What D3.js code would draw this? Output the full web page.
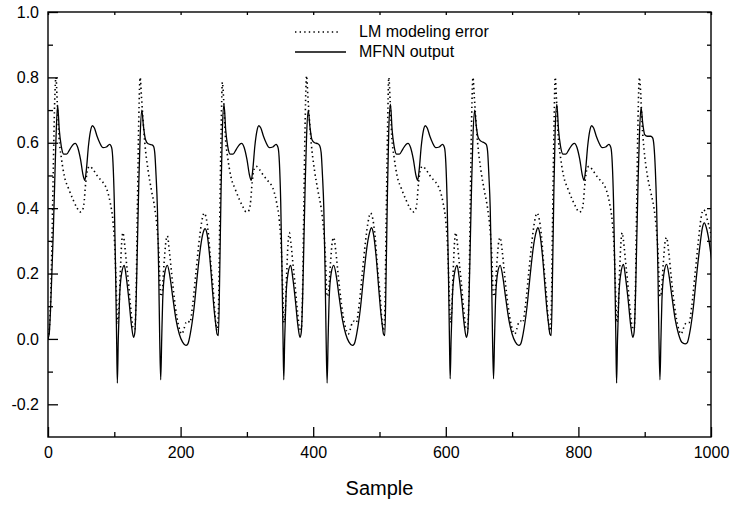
<!DOCTYPE html>
<html><head><meta charset="utf-8">
<script src="https://cdn.jsdelivr.net/npm/d3@7"></script>
<style>body{margin:0;background:#fff}svg{display:block;font-family:"Liberation Sans",Arial,sans-serif}</style>
</head><body><svg id="chart" width="730" height="505"></svg>
<script>
const xTickValues = [0, 200, 400, 600, 800, 1000];
const xTickLabels = ["0", "200", "400", "600", "800", "1000"];
const xMinorTicks = [100, 300, 500, 700, 900];
const yTickValues = [-0.2, 0, 0.2, 0.4, 0.6, 0.8, 1.0];
const yTickLabels = ["-0.2", "0.0", "0.2", "0.4", "0.6", "0.8", "1.0"];
const yMinorTicks = [-0.1, 0.1, 0.3, 0.5, 0.7, 0.9];
const xTitle = "Sample";
const seriesNames = ["LM modeling error", "MFNN output"];

// start sample of each repeated cycle of the waveform
const cycleStart = [0, 251, 502, 753];

// MFNN output: sample offsets within a cycle and values read per cycle
const mfnnT = [0,2,4,6,8,10,12,14.5,17,20,24,28,33,38,41,45,49,53,55.5,58,61,64,67,70,74,78,83,88,93,96,98,100,102,103.5,104.6,106,108,111,115,118,122,126,129,131,133,135,137,139,141.5,144,147,151,156,159,161,163,165,167,168.5,170,171.5,173,176,180,184,188,193,198,203,208,211,215,220,225,230,234,237,240,244,248];
const mfnnCycle1 = [0.00,0.02,0.10,0.21,0.33,0.47,0.61,0.715,0.64,0.59,0.565,0.565,0.58,0.595,0.598,0.585,0.55,0.50,0.485,0.52,0.59,0.635,0.652,0.645,0.62,0.60,0.585,0.587,0.595,0.585,0.54,0.42,0.20,0.0,-0.135,0.0,0.13,0.20,0.225,0.19,0.12,0.04,0.005,0.02,0.12,0.30,0.48,0.62,0.70,0.65,0.61,0.597,0.594,0.59,0.57,0.50,0.40,0.20,0.0,-0.125,0.0,0.12,0.20,0.225,0.19,0.13,0.06,0.015,-0.01,-0.02,-0.015,0.02,0.09,0.19,0.28,0.325,0.337,0.32,0.25,0.15];
const mfnnCycle2 = [0.08,0.045,0.015,0.01,0.20,0.45,0.64,0.718,0.64,0.59,0.565,0.565,0.58,0.595,0.598,0.585,0.55,0.50,0.485,0.52,0.59,0.635,0.652,0.645,0.62,0.60,0.585,0.587,0.595,0.585,0.54,0.42,0.20,0.0,-0.125,0.0,0.13,0.20,0.225,0.19,0.12,0.04,0.005,0.02,0.12,0.30,0.48,0.62,0.70,0.65,0.61,0.60,0.597,0.59,0.57,0.50,0.40,0.20,0.0,-0.135,0.0,0.12,0.20,0.225,0.19,0.13,0.06,0.015,-0.01,-0.02,-0.015,0.02,0.09,0.19,0.28,0.325,0.34,0.32,0.25,0.15];
const mfnnCycle3 = [0.08,0.045,0.015,0.01,0.20,0.45,0.64,0.718,0.64,0.59,0.565,0.565,0.58,0.595,0.598,0.585,0.55,0.50,0.485,0.52,0.59,0.635,0.652,0.645,0.62,0.60,0.585,0.587,0.595,0.585,0.54,0.42,0.20,0.0,-0.122,0.0,0.13,0.20,0.225,0.19,0.12,0.04,0.005,0.02,0.12,0.30,0.48,0.62,0.70,0.65,0.615,0.605,0.60,0.595,0.575,0.50,0.40,0.20,0.0,-0.122,0.0,0.12,0.20,0.225,0.19,0.13,0.06,0.015,-0.01,-0.02,-0.015,0.02,0.09,0.19,0.28,0.325,0.34,0.32,0.25,0.15];
const mfnnCycle4 = [0.08,0.045,0.015,0.01,0.20,0.45,0.64,0.718,0.64,0.59,0.565,0.565,0.58,0.595,0.598,0.585,0.55,0.50,0.485,0.52,0.59,0.635,0.652,0.645,0.62,0.60,0.585,0.587,0.595,0.585,0.54,0.42,0.20,0.0,-0.135,0.0,0.13,0.20,0.228,0.19,0.12,0.04,0.005,0.02,0.12,0.30,0.48,0.62,0.708,0.66,0.625,0.62,0.62,0.615,0.59,0.52,0.40,0.20,0.0,-0.125,0.0,0.12,0.20,0.228,0.19,0.13,0.06,0.015,-0.01,-0.015,-0.012,0.02,0.09,0.19,0.28,0.34,0.355,0.34,0.30,0.24];
const mfnnCycles = [mfnnCycle1, mfnnCycle2, mfnnCycle3, mfnnCycle4];

// LM modeling error: sample offsets within a cycle and values read per cycle
const lmT = [0,2,4,6,8,10,12,14,16.5,20,25,31,38,44,48,51,54,57,60,63,68,74,80,86,90,94,98,101,103,105,107,109,111,113,115,118,121,125,129,131,133,135,137,139,141,143,146,151,156,161,164,167,170,172,175,178,180,183,187,192,197,202,205,208,211,214,218,223,228,232,235.5,238,242,246,250];
const lmCycle1 = [0.00,0.03,0.12,0.30,0.52,0.72,0.80,0.72,0.62,0.556,0.495,0.46,0.425,0.40,0.388,0.39,0.41,0.48,0.52,0.528,0.518,0.50,0.485,0.47,0.45,0.415,0.36,0.27,0.15,0.05,0.09,0.20,0.29,0.325,0.30,0.24,0.18,0.09,0.03,0.03,0.15,0.42,0.68,0.80,0.74,0.68,0.60,0.515,0.455,0.40,0.35,0.27,0.13,0.14,0.23,0.30,0.315,0.27,0.19,0.10,0.04,0.015,0.03,0.05,0.055,0.05,0.10,0.20,0.30,0.36,0.385,0.375,0.32,0.22,0.13];
const lmCycle2 = [0.10,0.05,0.025,0.08,0.35,0.62,0.785,0.73,0.62,0.556,0.495,0.46,0.425,0.40,0.388,0.39,0.41,0.48,0.52,0.528,0.518,0.50,0.485,0.47,0.45,0.415,0.36,0.27,0.15,0.05,0.09,0.20,0.29,0.325,0.30,0.24,0.18,0.09,0.03,0.03,0.15,0.42,0.68,0.805,0.74,0.68,0.60,0.515,0.455,0.40,0.35,0.27,0.13,0.14,0.23,0.30,0.31,0.27,0.19,0.10,0.04,0.015,0.03,0.05,0.055,0.05,0.10,0.20,0.30,0.36,0.385,0.375,0.32,0.22,0.13];
const lmCycle3 = [0.10,0.05,0.025,0.08,0.35,0.62,0.80,0.73,0.62,0.556,0.495,0.46,0.425,0.40,0.388,0.39,0.41,0.48,0.52,0.528,0.518,0.50,0.485,0.47,0.45,0.415,0.36,0.27,0.15,0.05,0.09,0.20,0.29,0.325,0.30,0.24,0.18,0.09,0.03,0.03,0.15,0.42,0.68,0.80,0.74,0.68,0.60,0.515,0.455,0.40,0.35,0.27,0.13,0.14,0.23,0.30,0.31,0.27,0.19,0.10,0.04,0.015,0.03,0.05,0.055,0.05,0.10,0.20,0.30,0.36,0.385,0.375,0.32,0.22,0.13];
const lmCycle4 = [0.10,0.05,0.025,0.08,0.35,0.62,0.80,0.73,0.62,0.556,0.495,0.46,0.425,0.40,0.388,0.39,0.41,0.48,0.52,0.528,0.518,0.50,0.485,0.47,0.45,0.415,0.36,0.27,0.15,0.05,0.09,0.20,0.29,0.325,0.30,0.24,0.18,0.09,0.03,0.03,0.15,0.42,0.68,0.80,0.75,0.66,0.58,0.50,0.45,0.40,0.35,0.27,0.13,0.14,0.23,0.30,0.31,0.27,0.19,0.10,0.04,0.015,0.03,0.045,0.05,0.05,0.10,0.20,0.30,0.37,0.395,0.39,0.36,0.33,0.28];
const lmCycles = [lmCycle1, lmCycle2, lmCycle3, lmCycle4];

const svg = d3.select("#chart");
const plotLeft = 48, plotRight = 711, plotTop = 12, plotBottom = 437;

const x = d3.scaleLinear().domain([0, 1000]).range([plotLeft, plotRight]);
const y = d3.scaleLinear().domain([-0.3, 1.0]).range([plotBottom, plotTop]);

function buildSeries(tArr, cycles) {
  const pts = [];
  cycles.forEach((vals, c) => {
    vals.forEach((v, i) => pts.push([cycleStart[c] + tArr[i], v]));
  });
  return pts;
}
const lmData = buildSeries(lmT, lmCycles);
const mfnnData = buildSeries(mfnnT, mfnnCycles);

svg.append("defs").append("clipPath").attr("id", "plotclip")
  .append("rect").attr("x", plotLeft).attr("y", plotTop)
  .attr("width", plotRight - plotLeft).attr("height", plotBottom - plotTop);

const line = d3.line().x(d => x(d[0])).y(d => y(d[1])).curve(d3.curveMonotoneX);

const plot = svg.append("g").attr("clip-path", "url(#plotclip)");
plot.append("path").datum(lmData).attr("d", line)
  .attr("fill", "none").attr("stroke", "#000").attr("stroke-width", 1.6)
  .attr("stroke-dasharray", "1.4,3.2");
plot.append("path").datum(mfnnData).attr("d", line)
  .attr("fill", "none").attr("stroke", "#000").attr("stroke-width", 1.3);

const fontSize = 16;
function styleAxis(g) {
  g.select(".domain").remove();
  g.selectAll("line").attr("stroke", "#000").attr("stroke-width", 1.3);
  g.selectAll("text").attr("fill", "#000").style("font-size", fontSize + "px")
    .style("font-family", '"Liberation Sans", Arial, sans-serif');
}

svg.append("g").attr("transform", `translate(0,${plotBottom})`)
  .call(d3.axisBottom(x).tickValues(xTickValues).tickSize(-10).tickPadding(10)
    .tickFormat((d, i) => xTickLabels[i]))
  .call(styleAxis);
svg.append("g").attr("transform", `translate(0,${plotBottom})`)
  .call(d3.axisBottom(x).tickValues(xMinorTicks).tickSize(-5).tickFormat(""))
  .call(styleAxis);
svg.append("g").attr("transform", `translate(0,${plotTop})`)
  .call(d3.axisTop(x).tickValues(xMinorTicks.concat(xTickValues)).tickSize(-3).tickFormat(""))
  .call(styleAxis);
svg.append("g").attr("transform", `translate(${plotLeft},0)`)
  .call(d3.axisLeft(y).tickValues(yTickValues).tickSize(-10).tickPadding(9)
    .tickFormat((d, i) => yTickLabels[i]))
  .call(styleAxis);
svg.append("g").attr("transform", `translate(${plotLeft},0)`)
  .call(d3.axisLeft(y).tickValues(yMinorTicks).tickSize(-5).tickFormat(""))
  .call(styleAxis);
svg.append("g").attr("transform", `translate(${plotRight},0)`)
  .call(d3.axisRight(y).tickValues(yMinorTicks.concat(yTickValues)).tickSize(-4).tickFormat(""))
  .call(styleAxis);

svg.append("rect").attr("x", plotLeft).attr("y", plotTop)
  .attr("width", plotRight - plotLeft).attr("height", plotBottom - plotTop)
  .attr("fill", "none").attr("stroke", "#000").attr("stroke-width", 1.4);

svg.append("text").attr("x", (plotLeft + plotRight) / 2).attr("y", 495)
  .attr("text-anchor", "middle").style("font-size", "20px").attr("fill", "#000")
  .text(xTitle);

const legend = svg.append("g");
const legendRows = [
  { name: seriesNames[0], dash: "1.4,3.2", w: 1.6, x2: 340, y: 32 },
  { name: seriesNames[1], dash: null, w: 1.3, x2: 346, y: 52 }
];
legendRows.forEach(r => {
  legend.append("line").attr("x1", 295).attr("x2", r.x2).attr("y1", r.y).attr("y2", r.y)
    .attr("stroke", "#000").attr("stroke-width", r.w).attr("stroke-dasharray", r.dash);
  legend.append("text").attr("x", 359).attr("y", r.y + 5)
    .style("font-size", "16px").attr("fill", "#000").text(r.name);
});
</script></body></html>
